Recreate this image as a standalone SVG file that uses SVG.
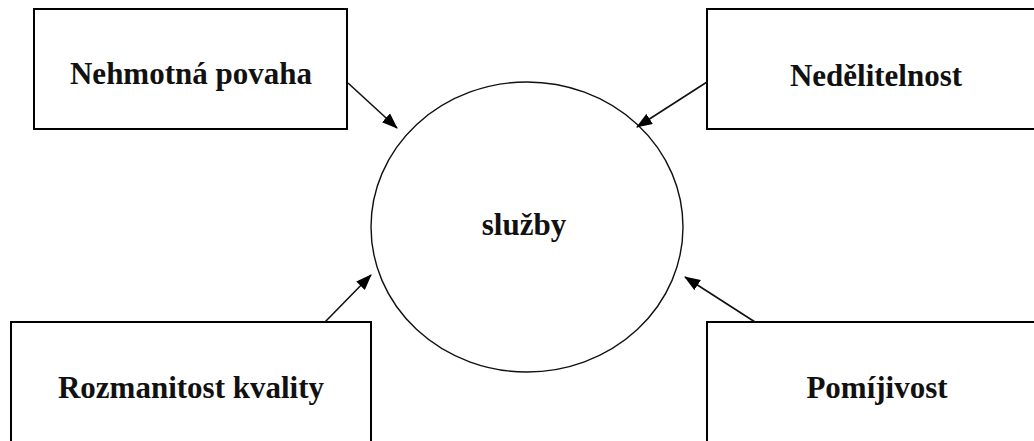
<svg xmlns="http://www.w3.org/2000/svg" width="1034" height="441" viewBox="0 0 1034 441">
<style>
.box{fill:#fff;stroke:#000;stroke-width:2}
.lbl{font-family:"Liberation Serif","Times New Roman",serif;font-weight:bold;font-size:31px;fill:#111;text-anchor:middle}
.conn{stroke:#111;stroke-width:1.6;fill:none;marker-end:url(#ah)}
</style>
<defs>
<marker id="ah" viewBox="0 0 16 12" refX="15" refY="6" markerWidth="16" markerHeight="12" markerUnits="userSpaceOnUse" orient="auto">
<path d="M0,0 L16,6 L0,12 Z" fill="#000"/>
</marker>
</defs>
<rect width="1034" height="441" fill="#fff"/>
<g id="node-sluzby">
<ellipse cx="527" cy="227" rx="156" ry="145" fill="#fff" stroke="#111" stroke-width="1.4"/>
<text class="lbl" x="524" y="235">služby</text>
</g>
<g id="node-nehmotna">
<rect class="box" x="34" y="9" width="313" height="120"/>
<text class="lbl" x="191" y="84">Nehmotná povaha</text>
</g>
<g id="node-nedelitelnost">
<rect class="box" x="707" y="9" width="340" height="120"/>
<text class="lbl" x="876" y="86">Nedělitelnost</text>
</g>
<g id="node-rozmanitost">
<rect class="box" x="11" y="322" width="360" height="140"/>
<text class="lbl" x="191" y="398">Rozmanitost kvality</text>
</g>
<g id="node-pomijivost">
<rect class="box" x="707" y="322" width="340" height="140"/>
<text class="lbl" x="877" y="398">Pomíjivost</text>
</g>
<g id="connectors">
<line class="conn" x1="348" y1="83" x2="397" y2="128"/>
<line class="conn" x1="707" y1="82" x2="637" y2="127"/>
<line class="conn" x1="325" y1="322" x2="371" y2="275"/>
<line class="conn" x1="755" y1="322" x2="685" y2="277"/>
</g>
</svg>
